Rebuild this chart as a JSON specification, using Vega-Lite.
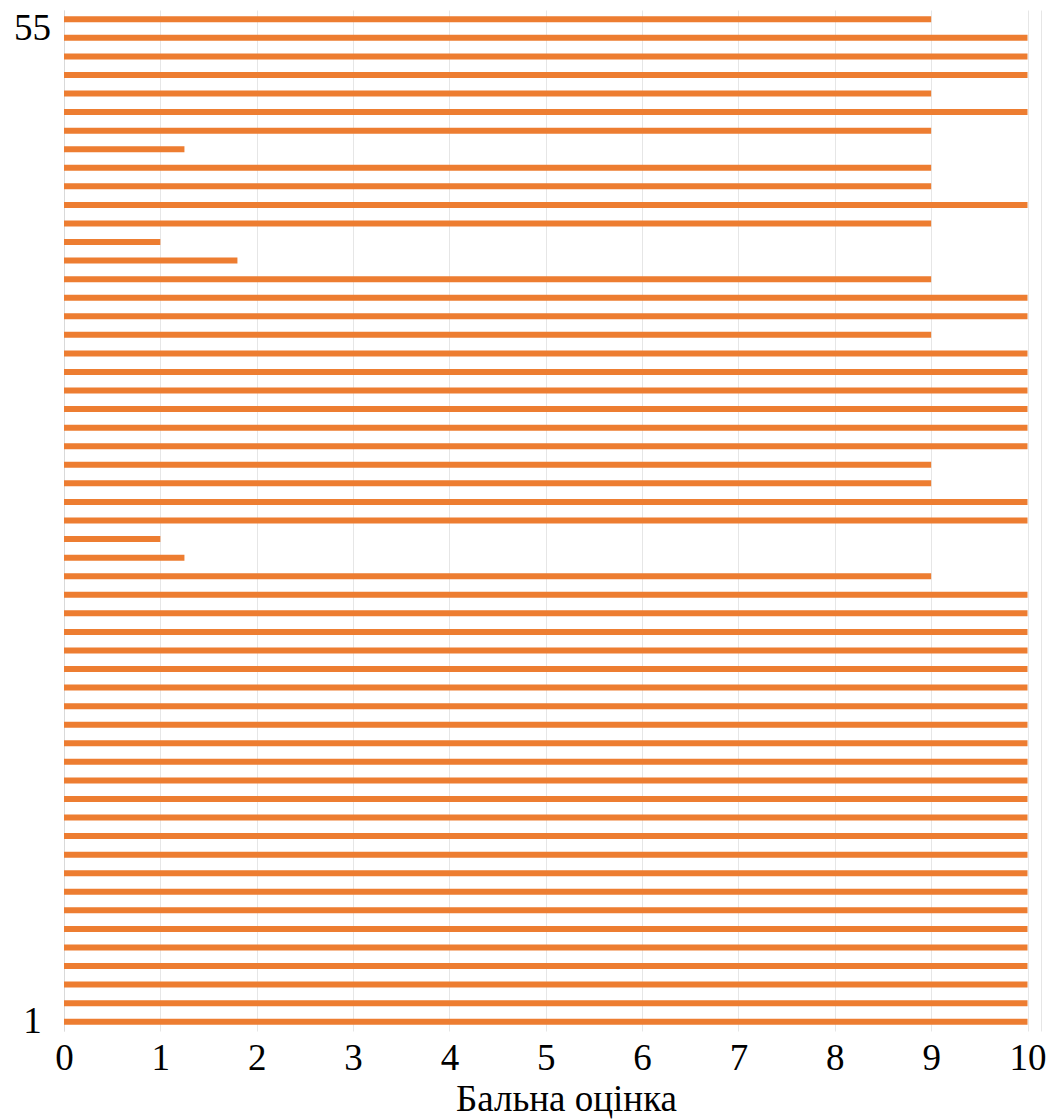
{
  "$schema": "https://vega.github.io/schema/vega-lite/v6.json",
  "autosize": "none",
  "padding": {"left": 64, "top": 10, "right": 11, "bottom": 89},
  "width": 977,
  "height": 1021,
  "background": "white",
  "config": {"view": {"stroke": null}, "font": "'Times New Roman', 'Liberation Serif', 'DejaVu Serif', serif"},
  "data": {"values": [
    {"n": 55, "score": 9}, {"n": 54, "score": 10}, {"n": 53, "score": 10}, {"n": 52, "score": 10},
    {"n": 51, "score": 9}, {"n": 50, "score": 10}, {"n": 49, "score": 9}, {"n": 48, "score": 1.25},
    {"n": 47, "score": 9}, {"n": 46, "score": 9}, {"n": 45, "score": 10}, {"n": 44, "score": 9},
    {"n": 43, "score": 1.0}, {"n": 42, "score": 1.8}, {"n": 41, "score": 9}, {"n": 40, "score": 10},
    {"n": 39, "score": 10}, {"n": 38, "score": 9}, {"n": 37, "score": 10}, {"n": 36, "score": 10},
    {"n": 35, "score": 10}, {"n": 34, "score": 10}, {"n": 33, "score": 10}, {"n": 32, "score": 10},
    {"n": 31, "score": 9}, {"n": 30, "score": 9}, {"n": 29, "score": 10}, {"n": 28, "score": 10},
    {"n": 27, "score": 1.0}, {"n": 26, "score": 1.25}, {"n": 25, "score": 9}, {"n": 24, "score": 10},
    {"n": 23, "score": 10}, {"n": 22, "score": 10}, {"n": 21, "score": 10}, {"n": 20, "score": 10},
    {"n": 19, "score": 10}, {"n": 18, "score": 10}, {"n": 17, "score": 10}, {"n": 16, "score": 10},
    {"n": 15, "score": 10}, {"n": 14, "score": 10}, {"n": 13, "score": 10}, {"n": 12, "score": 10},
    {"n": 11, "score": 10}, {"n": 10, "score": 10}, {"n": 9, "score": 10}, {"n": 8, "score": 10},
    {"n": 7, "score": 10}, {"n": 6, "score": 10}, {"n": 5, "score": 10}, {"n": 4, "score": 10},
    {"n": 3, "score": 10}, {"n": 2, "score": 10}, {"n": 1, "score": 10}
  ]},
  "mark": {"type": "bar", "color": "#ED7D31", "size": 6},
  "encoding": {
    "y": {
      "field": "n", "type": "ordinal", "sort": "descending",
      "scale": {"paddingInner": 0, "paddingOuter": 0},
      "axis": {
        "title": null,
        "ticks": false, "tickSize": 0,
        "domain": true, "domainColor": "#d9d9d9", "domainWidth": 1,
        "labelExpr": "datum.label == '1' || datum.label == '55' ? datum.label : ''",
        "labelFontSize": 37, "labelColor": "#000000",
        "labelAlign": "center", "labelPadding": 32,
        "labelOffset": {"expr": "datum.label == '55' ? 10 : 0"},
        "grid": false
      }
    },
    "x": {
      "field": "score", "type": "quantitative",
      "scale": {"domain": [0, 10.14], "nice": false, "zero": true},
      "axis": {
        "title": "Бальна оцінка",
        "titleFontSize": 37, "titleFontWeight": "normal", "titleColor": "#000000",
        "titleX": 502, "titlePadding": 5,
        "values": [0, 1, 2, 3, 4, 5, 6, 7, 8, 9, 10, 10.14],
        "labelExpr": "datum.value > 10.05 ? '' : datum.label",
        "labelFontSize": 37, "labelColor": "#000000",
        "labelPadding": 9, "labelFlush": false,
        "ticks": false, "tickSize": 0, "domain": false,
        "grid": true, "gridColor": "#e6e6e6", "gridWidth": 1
      }
    }
  }
}
